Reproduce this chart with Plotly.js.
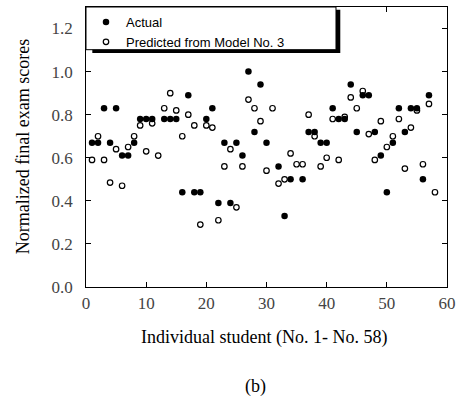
<!DOCTYPE html>
<html>
<head>
<meta charset="utf-8">
<script src="https://cdn.plot.ly/plotly-3.0.1.min.js"></script>
<style>
  html, body { margin: 0; padding: 0; background: #fff; }
  #chart { width: 456px; height: 399px; }
</style>
</head>
<body>
<div id="chart"></div>
<script>
// Student numbers
const students = [1,2,3,4,5,6,7,8,9,10,11,12,13,14,15,16,17,18,19,20,
  21,22,23,24,25,26,27,28,29,30,31,32,33,34,35,36,37,38,39,40,
  41,42,43,44,45,46,47,48,49,50,51,52,53,54,55,56,57,58];

// Actual normalized final exam scores (null = not visible in the figure)
const actualScores = [0.67,0.67,0.83,0.67,0.83,0.61,0.61,0.67,0.78,0.78,
  0.78,null,0.78,0.78,0.78,0.44,0.89,0.44,0.44,0.78,
  0.83,0.39,0.67,0.39,0.67,0.61,1.00,0.72,0.94,0.67,
  null,0.56,0.33,0.50,null,0.50,0.72,0.72,0.67,0.67,
  0.83,0.78,0.78,0.94,0.72,0.89,0.89,0.72,0.61,0.44,
  0.67,0.83,0.72,0.83,0.83,0.50,0.89,null];

// Predicted scores from Model No. 3
const predictedScores = [0.59,0.70,0.59,0.485,0.64,0.47,0.65,0.70,0.75,0.63,
  0.76,0.61,0.83,0.90,0.82,0.70,0.80,0.75,0.29,0.75,
  0.74,0.31,0.56,0.64,0.37,0.56,0.87,0.83,0.77,0.54,
  0.83,0.48,0.50,0.62,0.57,0.57,0.80,0.70,0.56,0.60,
  0.78,0.59,0.79,0.88,0.83,0.91,0.71,0.59,0.77,0.65,
  0.70,0.78,0.55,0.74,0.82,0.57,0.85,0.44];

const seriesNames = ["Actual", "Predicted from Model No. 3"];
const xTitle = "Individual student (No. 1- No. 58)";
const yTitle = "Normalized final exam scores";
const panelLabel = "(b)";

const traces = [
  {
    x: students, y: actualScores, name: seriesNames[0],
    type: "scatter", mode: "markers",
    marker: { symbol: "circle", size: 6.5, color: "#000000" }
  },
  {
    x: students, y: predictedScores, name: seriesNames[1],
    type: "scatter", mode: "markers",
    marker: { symbol: "circle-open", size: 5.5, color: "#000000", line: { width: 1.2, color: "#000000" } }
  }
];

const layout = {
  width: 456,
  height: 399,
  margin: { l: 86, r: 9, t: 7, b: 112 },
  showlegend: true,
  legend: {
    x: 0, y: 1, xanchor: "left", yanchor: "top",
    bgcolor: "rgba(0,0,0,0)", borderwidth: 0,
    font: { family: "Liberation Sans", size: 13, color: "#000000" }
  },
  xaxis: {
    range: [0, 60], dtick: 10, tick0: 0,
    showline: true, linecolor: "#000000", linewidth: 1.3, mirror: "allticks",
    ticks: "inside", ticklen: 5, tickwidth: 1, tickcolor: "#000000",
    showgrid: false, zeroline: false,
    tickfont: { family: "Liberation Serif", size: 17 }
  },
  yaxis: {
    range: [0, 1.3], dtick: 0.2, tick0: 0, tickformat: ".1f",
    ticksuffix: "\u2002",
    showline: true, linecolor: "#000000", linewidth: 1.3, mirror: "allticks",
    ticks: "inside", ticklen: 5, tickwidth: 1, tickcolor: "#000000",
    showgrid: false, zeroline: false,
    tickfont: { family: "Liberation Serif", size: 17 }
  },
  shapes: [
    { type: "rect", xref: "paper", yref: "paper", x0: 0.0175, x1: 0.7044, y0: 0.8357, y1: 0.990,
      fillcolor: "#000000", line: { width: 0 }, layer: "above" },
    { type: "rect", xref: "paper", yref: "paper", x0: 0, x1: 0.6925, y0: 0.8475, y1: 1,
      fillcolor: "#ffffff", line: { width: 1, color: "#000000" }, layer: "above" }
  ],
  annotations: [
    { text: xTitle, xref: "paper", yref: "paper", x: 0.494, y: -0.181,
      xanchor: "center", yanchor: "middle", showarrow: false,
      font: { family: "Liberation Serif", size: 18, color: "#000000" } },
    { text: yTitle, xref: "paper", yref: "paper", x: -0.174, y: 0.5, textangle: -90,
      xanchor: "center", yanchor: "middle", showarrow: false,
      font: { family: "Liberation Serif", size: 18, color: "#000000" } },
    { text: panelLabel, xref: "paper", yref: "paper", x: 0.47, y: -0.356,
      xanchor: "center", yanchor: "middle", showarrow: false,
      font: { family: "Liberation Serif", size: 18, color: "#000000" } }
  ]
};

Plotly.newPlot("chart", traces, layout, { displayModeBar: false, staticPlot: true });
</script>
</body>
</html>
